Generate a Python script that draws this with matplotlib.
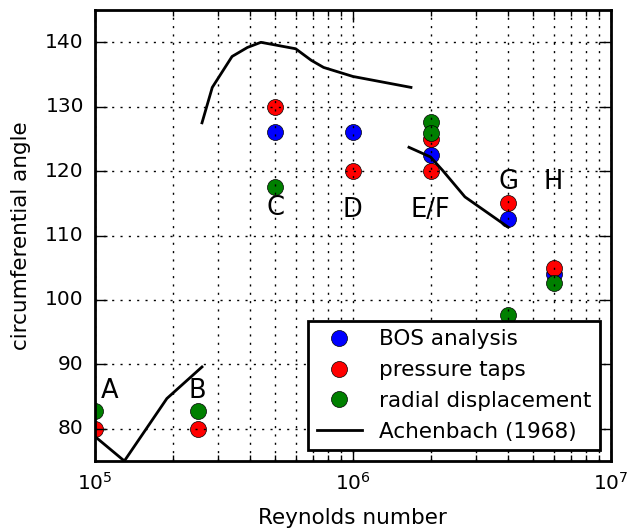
import numpy as np
import matplotlib
matplotlib.use('Agg')
import matplotlib.pyplot as plt

plt.style.use('classic')

# measurement cases (Reynolds number) and separation angles
re_bos = [5e5, 1e6, 2e6, 4e6, 6e6]
ang_bos = [126.0, 126.0, 122.5, 112.5, 104.0]

re_taps = [1e5, 2.5e5, 5e5, 1e6, 2e6, 2e6, 4e6, 6e6]
ang_taps = [80.0, 80.0, 130.0, 120.0, 125.0, 120.0, 115.0, 105.0]

re_rad = [1e5, 2.5e5, 5e5, 2e6, 2e6, 4e6, 6e6]
ang_rad = [82.7, 82.7, 117.6, 127.7, 125.9, 97.6, 102.7]

# Achenbach (1968), three separate branches
ach_re_1 = [1e5, 1.3e5, 1.9e5, 2.6e5]
ach_ang_1 = [78.8, 75.0, 84.7, 89.6]
ach_re_2 = [2.6e5, 2.85e5, 3.4e5, 3.9e5, 4.4e5, 6.0e5, 6.9e5, 7.7e5, 1e6, 1.68e6]
ach_ang_2 = [127.5, 133.0, 137.8, 139.2, 140.0, 139.0, 137.2, 136.1, 134.7, 133.0]
ach_re_3 = [1.65e6, 2e6, 2.23e6, 2.72e6, 4e6]
ach_ang_3 = [123.7, 122.2, 120.1, 116.0, 111.3]

case_labels = ['A', 'B', 'C', 'D', 'E/F', 'G', 'H']
case_x = [1.14e5, 2.5e5, 5e5, 1e6, 2e6, 4e6, 6e6]
case_y = [85.8, 85.8, 114.2, 114.0, 114.0, 118.3, 118.3]

fig = plt.figure(figsize=(6.29, 5.32), dpi=100)
fig.patch.set_facecolor('white')
ax = fig.add_axes([0.151, 0.1335, 0.82, 0.8475])

ms = 11.5
ax.plot(re_bos, ang_bos, 'o', color='b', ms=ms, mec='k', label='BOS analysis')
ax.plot(re_taps, ang_taps, 'o', color='r', ms=ms, mec='k', label='pressure taps')
ax.plot(re_rad, ang_rad, 'o', color='g', ms=ms, mec='k', label='radial displacement')
ax.plot(ach_re_1, ach_ang_1, 'k-', lw=2, label='Achenbach (1968)')
ax.plot(ach_re_2, ach_ang_2, 'k-', lw=2)
ax.plot(ach_re_3, ach_ang_3, 'k-', lw=2)

for lab, x, y in zip(case_labels, case_x, case_y):
    ax.text(x, y, lab, ha='center', va='center', fontsize=18.5)

ax.set_xscale('log')
ax.set_xlim(1e5, 1e7)
ax.set_ylim(75, 145)
ax.set_yticks([80, 90, 100, 110, 120, 130, 140])
grid_style = dict(linestyle=(0, (1.5, 4.5)), color='k', linewidth=1.0)
ax.grid(True, which='major', **grid_style)
ax.grid(True, which='minor', axis='x', **grid_style)
ax.tick_params(labelsize=14.5, pad=8)
ax.tick_params(which='major', length=8.5, width=1)
ax.tick_params(which='minor', length=4, width=1)
ax.set_xlabel('Reynolds number', fontsize=15.5, labelpad=10)
ax.set_ylabel('circumferential angle', fontsize=15.5, labelpad=10)
for sp in ax.spines.values():
    sp.set_linewidth(2)

leg = ax.legend(loc='lower right', numpoints=1, fontsize=15.5, fancybox=False,
                handlelength=2.1, borderaxespad=0.5)
leg.get_frame().set_linewidth(2)

fig.savefig('out.png', dpi=100, facecolor='white')
